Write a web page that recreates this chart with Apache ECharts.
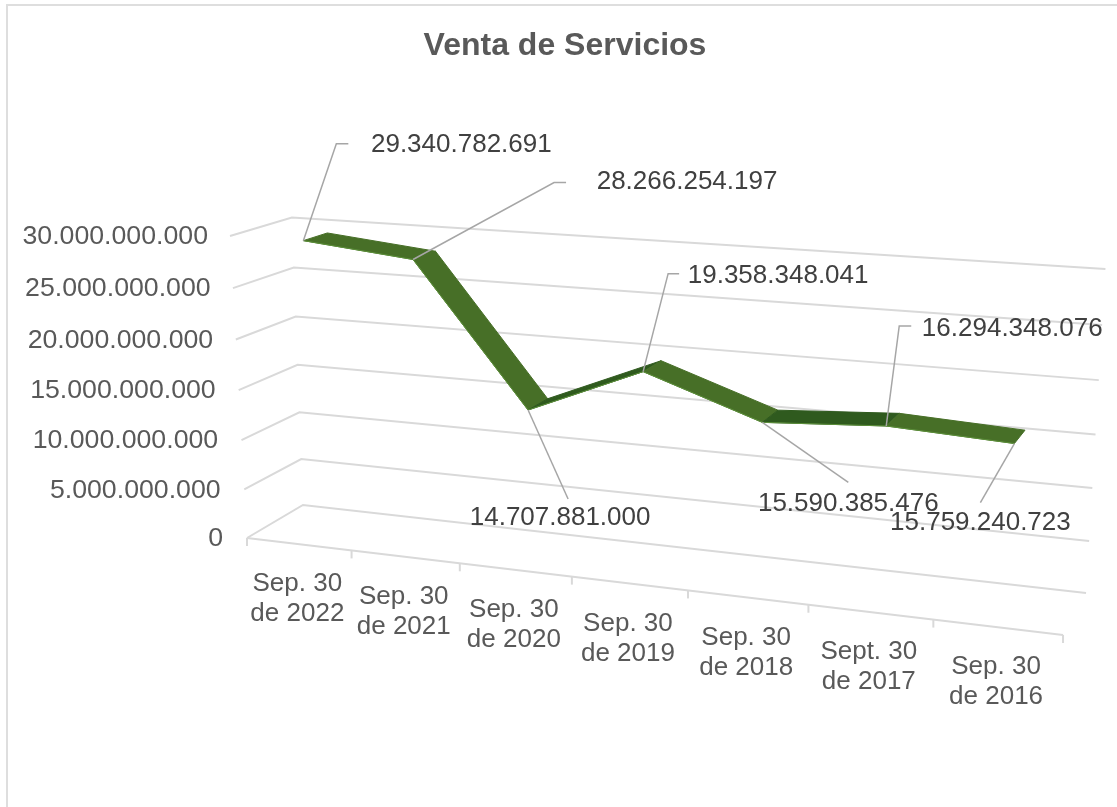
<!DOCTYPE html>
<html>
<head>
<meta charset="utf-8">
<title>Venta de Servicios</title>
<script src="https://cdn.jsdelivr.net/npm/echarts@6/dist/echarts.min.js"></script>
<style>
html, body { margin: 0; padding: 0; background: #fff; }
#main { width: 1117px; height: 807px; }
</style>
</head>
<body>
<div id="main"></div>
<script>
// datos
var categories = ["Sep. 30\nde 2022", "Sep. 30\nde 2021", "Sep. 30\nde 2020", "Sep. 30\nde 2019", "Sep. 30\nde 2018", "Sept. 30\nde 2017", "Sep. 30\nde 2016"];
var ventas = [29340782691, 28266254197, 14707881000, 19358348041, 15590385476, 16294348076, 15759240723];
var yTicks = [0, 5000000000, 10000000000, 15000000000, 20000000000, 25000000000, 30000000000];
var yTickLabels = ["0", "5.000.000.000", "10.000.000.000", "15.000.000.000", "20.000.000.000", "25.000.000.000", "30.000.000.000"];

// offsets de las etiquetas respecto al punto: [codoX, codoY, finX, finY, textoX, textoY]
var leaderOffsets = [
  [33, -97, 45, -97, 158, -96],
  [141, -77, 153, -77, 274, -78],
  [40, 89, 40, 89, 32, 108],
  [25, -98, 36, -98, 135, -96],
  [86, 60, 86, 60, 86, 81],
  [13, -100, 25, -100, 126, -97],
  [-34, 59, -34, 59, -34, 79]
];

// proyeccion 3D a pixeles: u = categoria, d = profundidad, h = altura (0..1)
function project(u, d, h) {
  var w = 1 - 0.118 * u + 0.0456 * d - 0.04 * h - 0.01 * d * h * (1 - u);
  return [
    (247 + 690.6 * u + 69.8 * d - 26.2 * h) / w,
    (538 + 22.07 * u - 10 * d - 311.4 * h) / w
  ];
}

var FRONT = 0.31;
var BACK = 0.71;
var FONT = "'Liberation Sans', Arial, sans-serif";

// pasa por las escalas del eje y luego por la proyeccion
function toUH(params, api, cat, val) {
  var c = api.coord([cat, val]);
  var sys = params.coordSys;
  return [(c[0] - sys.x) / sys.width, (sys.y + sys.height - c[1]) / sys.height];
}

function renderGrid(params, api) {
  var h = toUH(params, api, 0, api.value(0))[1];
  var a = project(0, 0, h);
  var b = project(0, 1, h);
  var c = project(1, 1, h);
  var line = { stroke: "#d9d9d9", lineWidth: 2, fill: null };
  var children = [
    { type: "polyline", shape: { points: [a, b, c] }, style: line },
    {
      type: "text",
      style: {
        text: yTickLabels[params.dataIndex],
        x: a[0] - 24 + 2 * h,
        y: a[1] + 1,
        align: "right",
        verticalAlign: "middle",
        font: "26.7px " + FONT,
        fill: "#595959"
      }
    }
  ];
  if (h === 0) {
    children.push({ type: "polyline", shape: { points: [a, project(1, 0, 0)] }, style: line });
  }
  return { type: "group", children: children };
}

function renderCategory(params, api) {
  var i = params.dataIndex;
  var u = toUH(params, api, i, 0)[0];
  var step = 0.5 / categories.length;
  var tickStyle = { stroke: "#d9d9d9", lineWidth: 2 };
  var t0 = project(u - step, 0, 0);
  var mid = project(u, 0, 0);
  var children = [
    { type: "line", shape: { x1: t0[0], y1: t0[1], x2: t0[0], y2: t0[1] + 8 }, style: tickStyle },
    {
      type: "text",
      style: {
        text: categories[i],
        x: mid[0] - 1.5,
        y: mid[1] + 55,
        align: "center",
        verticalAlign: "middle",
        lineHeight: 30,
        font: "26px " + FONT,
        fill: "#595959"
      }
    }
  ];
  if (i === categories.length - 1) {
    var t1 = project(u + step, 0, 0);
    children.push({ type: "line", shape: { x1: t1[0], y1: t1[1], x2: t1[0], y2: t1[1] + 8 }, style: tickStyle });
  }
  return { type: "group", children: children };
}

function renderRibbon(params, api) {
  var i = api.value(0);
  if (i >= ventas.length - 1) return;
  var p = toUH(params, api, i, api.value(1));
  var q = toUH(params, api, i + 1, ventas[i + 1]);
  var a = project(p[0], FRONT, p[1]);
  var b = project(q[0], FRONT, q[1]);
  var c = project(q[0], BACK, q[1]);
  var d = project(p[0], BACK, p[1]);
  // el tramo que sube se ve casi de canto y mas oscuro
  var fill = ventas[i + 1] > api.value(1) ? "#2f5a1e" : "#476f27";
  return {
    type: "group",
    children: [
      { type: "polygon", shape: { points: [a, b, c, d] }, style: { fill: fill, stroke: fill, lineWidth: 1 } },
      { type: "line", shape: { x1: a[0], y1: a[1], x2: b[0], y2: b[1] }, style: { stroke: "#5c8f3a", lineWidth: 1 } }
    ]
  };
}

function renderLabel(params, api) {
  var i = api.value(0);
  var uh = toUH(params, api, i, api.value(1));
  var p = project(uh[0], FRONT, uh[1]);
  var o = leaderOffsets[i];
  return {
    type: "group",
    children: [
      {
        type: "polyline",
        shape: { points: [p, [p[0] + o[0], p[1] + o[1]], [p[0] + o[2], p[1] + o[3]]] },
        style: { stroke: "#a6a6a6", lineWidth: 1.5, fill: null }
      },
      {
        type: "text",
        style: {
          text: String(ventas[i]).replace(/\B(?=(\d{3})+$)/g, "."),
          x: p[0] + o[4],
          y: p[1] + o[5],
          align: "center",
          verticalAlign: "middle",
          font: "26px " + FONT,
          fill: "#404040"
        }
      }
    ]
  };
}

var catData = categories.map(function (c, i) { return [i, 0]; });
var valData = ventas.map(function (v, i) { return [i, v]; });

var myChart = echarts.init(document.getElementById("main"));
myChart.setOption({
  backgroundColor: "#fff",
  animation: false,
  title: {
    text: "Venta de Servicios",
    left: 560,
    top: 25,
    textAlign: "center",
    textStyle: { fontFamily: FONT, fontSize: 32, fontWeight: "bold", color: "#595959" }
  },
  // el marco solo asoma arriba y a la izquierda
  graphic: [{
    type: "polyline",
    shape: { points: [[7, 807], [7, 5], [1117, 5]] },
    style: { fill: null, stroke: "#dedede", lineWidth: 2 },
    silent: true
  }],
  grid: { left: 200, right: 200, top: 200, bottom: 200 },
  xAxis: { type: "category", data: categories, show: false },
  yAxis: { type: "value", min: 0, max: 30000000000, interval: 5000000000, show: false },
  series: [
    { name: "grid", type: "custom", renderItem: renderGrid, data: yTicks, encode: { y: 0 }, z: 1, silent: true, clip: false },
    { name: "categorias", type: "custom", renderItem: renderCategory, data: catData, z: 2, silent: true, clip: false },
    { name: "Venta de Servicios", type: "custom", renderItem: renderRibbon, data: valData, z: 3, clip: false },
    { name: "etiquetas", type: "custom", renderItem: renderLabel, data: valData, z: 4, silent: true, clip: false }
  ]
});
</script>
</body>
</html>
